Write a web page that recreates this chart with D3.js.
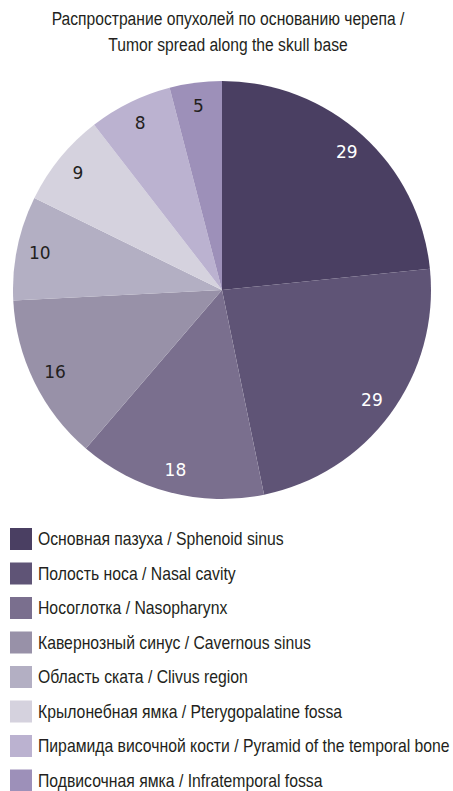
<!DOCTYPE html>
<html>
<head>
<meta charset="utf-8">
<script src="https://cdn.jsdelivr.net/npm/d3@7"></script>
<style>
  html, body { margin: 0; padding: 0; background: #fff; }
  svg { display: block; }
  .cond { font-family: "Liberation Sans", Arial, sans-serif; fill: #231f20; }
  .val { font-family: "DejaVu Sans", sans-serif; font-size: 17px; }
</style>
</head>
<body>
<svg id="chart" width="453" height="791"></svg>
<script>
// Tumour localisation along the skull base, number of cases
const titleLines = [
  "Распространие опухолей по основанию черепа /",
  "Tumor spread along the skull base"
];
const categories = [
  "Основная пазуха / Sphenoid sinus",
  "Полость носа / Nasal cavity",
  "Носоглотка / Nasopharynx",
  "Кавернозный синус / Cavernous sinus",
  "Область ската / Clivus region",
  "Крылонебная ямка / Pterygopalatine fossa",
  "Пирамида височной кости / Pyramid of the temporal bone",
  "Подвисочная ямка / Infratemporal fossa"
];
const values = [29, 29, 18, 16, 10, 9, 8, 5];
const colors = ["#4a3f62", "#5f5476", "#7a6f8e", "#9891a8", "#b3afc3", "#d5d2de", "#bbb2d0", "#9d90b9"];
const labelColors = ["#ffffff", "#ffffff", "#ffffff", "#231f20", "#231f20", "#231f20", "#231f20", "#231f20"];

const svg = d3.select("#chart");
const cx = 222, cy = 290, R = 209, labelR = 186;

// Condensed look: draw regular sans text squeezed horizontally
function condense(sel, anchorX, targetWidth) {
  const widths = sel.nodes().map(n => n.getComputedTextLength());
  const k = targetWidth / d3.max(widths);
  sel.attr("transform", `translate(${anchorX},0) scale(${k},1) translate(${-anchorX},0)`);
}

// Title
const title = svg.append("g").selectAll("text")
  .data(titleLines)
  .join("text")
  .attr("class", "cond")
  .attr("x", 228)
  .attr("y", (d, i) => 25 + i * 26)
  .attr("text-anchor", "middle")
  .attr("font-size", 19)
  .text(d => d);
condense(title, 228, 353);

// Pie, clockwise from 12 o'clock in data order
const pie = d3.pie().sort(null).value(d => d);
const arcs = pie(values);
const arc = d3.arc().innerRadius(0).outerRadius(R);
const labelArc = d3.arc().innerRadius(labelR).outerRadius(labelR);

const g = svg.append("g").attr("transform", `translate(${cx},${cy})`);
g.selectAll("path")
  .data(arcs)
  .join("path")
  .attr("d", arc)
  .attr("fill", (d, i) => colors[i]);

g.selectAll("text")
  .data(arcs)
  .join("text")
  .attr("class", "val")
  .attr("transform", d => `translate(${labelArc.centroid(d)})`)
  .attr("text-anchor", "middle")
  .attr("dy", "0.36em")
  .style("fill", (d, i) => labelColors[i])
  .text(d => d.data);

// Legend
const legend = svg.append("g").attr("transform", "translate(10,528)");
const row = legend.selectAll("g")
  .data(categories)
  .join("g")
  .attr("transform", (d, i) => `translate(0,${i * 34.5})`);
row.append("rect")
  .attr("width", 22).attr("height", 22)
  .attr("fill", (d, i) => colors[i]);
const legendText = row.append("text")
  .attr("class", "cond")
  .attr("x", 28)
  .attr("y", 11)
  .attr("dy", "0.36em")
  .attr("font-size", 18)
  .text(d => d);
condense(legendText, 28, 412);
</script>
</body>
</html>
